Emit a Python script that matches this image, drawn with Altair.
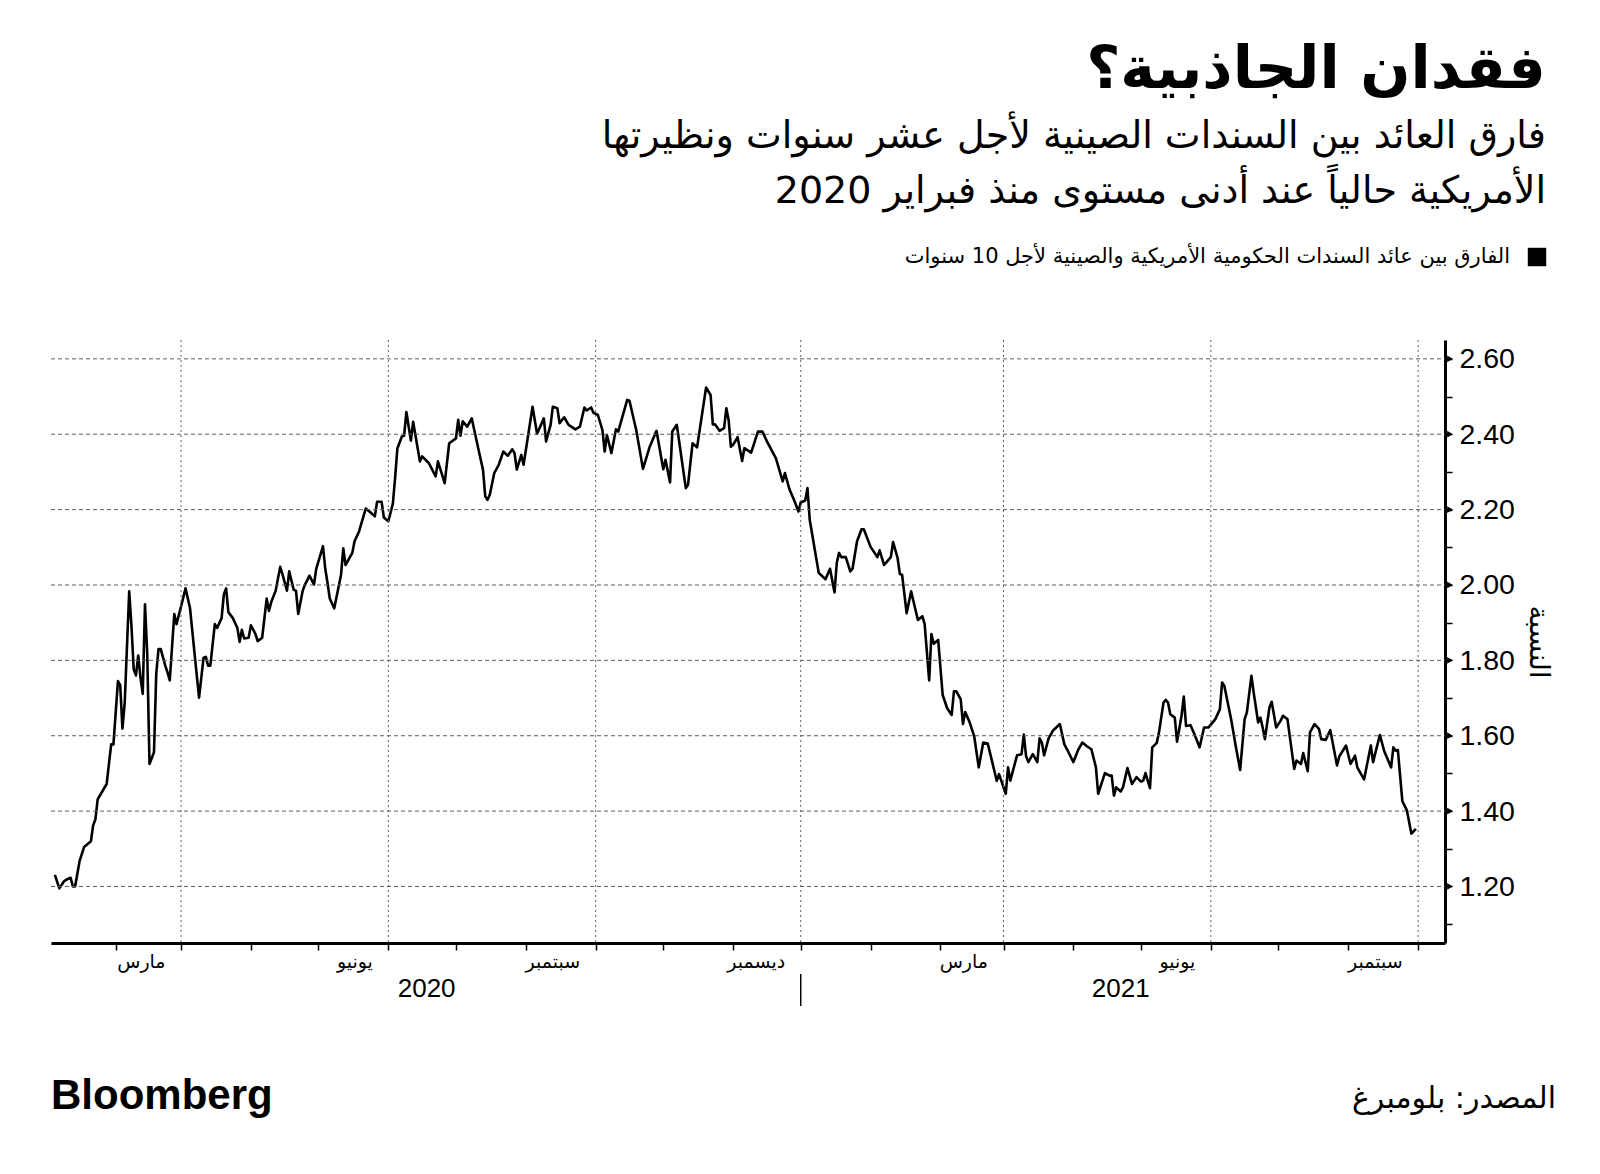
import altair as alt
import pandas as pd

# ---------------- text ----------------
TITLE = "فقدان الجاذبية؟"
SUBTITLE_1 = "فارق العائد بين السندات الصينية لأجل عشر سنوات ونظيرتها"
SUBTITLE_2 = "الأمريكية حالياً عند أدنى مستوى منذ فبراير 2020"
LEGEND = "الفارق بين عائد السندات الحكومية الأمريكية والصينية لأجل 10 سنوات"
SOURCE = "المصدر: بلومبرغ"
BRAND = "Bloomberg"
Y_TITLE = "النسبة"

# ---------------- data ----------------
# dates expressed as days since BASE_DATE, with the spread
BASE_DATE = "2020-03-01"
day_offsets = [
    -56, -54, -52, -51, -49, -48, -47, -45, -43, -40, -39, -38, -37, -34, -33, -32, -31, -30,
    -28, -27, -26, -25, -23, -22, -21, -20, -19, -18, -17, -16, -15, -14, -12, -11, -10, -9,
    -7, -6, -5, -3, -2, 0, 2, 4, 6, 8, 10, 11, 12, 13, 15, 16, 18, 19, 20, 21, 23, 25, 26,
    27, 28, 30, 31, 33, 34, 36, 38, 39, 40, 42, 44, 45, 47, 48, 50, 51, 52, 54, 55, 57, 59,
    60, 63, 64, 65, 66, 68, 71, 72, 73, 76, 77, 79, 80, 82, 84, 86, 87, 89, 90, 92, 94, 95,
    96, 98, 99, 100, 102, 103,
    106, 107, 110, 113, 114, 117, 119, 122, 123, 124, 125, 127, 129, 133, 134, 135, 136, 137,
    139, 141, 143, 145, 147, 148, 149, 151, 152, 156, 158, 161, 162, 164, 165, 167, 168, 170,
    172, 175, 177, 179, 180, 182, 183, 185, 187, 188, 189, 191, 193, 194, 198, 199, 202, 205,
    208, 211, 214, 215, 217, 218, 220, 224, 225, 227, 229, 233, 235, 236, 237, 239, 241, 242,
    243, 244, 245, 247, 249, 250, 253, 256, 258, 260, 264, 267, 268, 270, 272, 274, 275, 277,
    278, 279, 282, 283,
    286, 288, 290, 291, 292, 293, 295, 297, 298, 300, 302, 303, 306, 309, 310, 312, 315, 316,
    318, 319, 320, 322, 324, 327, 329, 330, 332, 333, 334, 336, 338, 340, 342, 343, 344, 346,
    347, 348, 350, 352, 354, 356, 358, 360, 362, 363, 366, 367, 368, 371, 373, 374, 375, 376,
    378, 380, 381, 382, 383, 385, 387, 390, 392, 393, 396, 398, 400, 402, 404, 406, 407,
    410, 412, 413, 414, 415, 417, 418, 420, 422, 424, 426, 427, 428, 430, 431, 433, 434, 436,
    437, 438, 439, 441, 442, 444, 445, 446, 448, 450, 452, 454, 456, 459, 461, 462, 463, 466,
    468, 470, 472, 473, 475, 476, 478, 479, 480, 481, 483, 484, 486, 488, 489, 491, 494, 495,
    497, 498, 500, 501, 503, 505, 506, 508, 510, 513, 514, 517, 519, 521, 522, 525, 528, 529,
    532, 534, 537, 538, 539, 540, 542, 544, 546, 548,
]
spread = [
    1.231, 1.195, 1.213, 1.218, 1.223, 1.200, 1.200, 1.268, 1.305, 1.320, 1.362, 1.378, 1.431,
    1.462, 1.472, 1.525, 1.577, 1.577, 1.745, 1.734, 1.619, 1.687, 1.983, 1.891, 1.776, 1.760,
    1.813, 1.755, 1.711, 1.949, 1.818, 1.525, 1.556, 1.765, 1.830, 1.830, 1.786, 1.768, 1.747,
    1.923, 1.896, 1.943, 1.991, 1.938, 1.818, 1.701, 1.807, 1.809, 1.786, 1.786, 1.896, 1.886,
    1.912, 1.975, 1.991, 1.928, 1.912, 1.886, 1.849, 1.881, 1.858, 1.860, 1.893, 1.870, 1.851,
    1.860, 1.964, 1.931, 1.954, 1.985, 2.048, 2.029, 1.985, 2.036, 1.987, 1.985, 1.923, 1.985,
    2.001, 2.025, 2.001, 2.043, 2.103, 2.043, 2.006, 1.964, 1.938, 2.027, 2.097, 2.053, 2.085,
    2.116, 2.142, 2.163, 2.203, 2.193, 2.182, 2.221, 2.221, 2.179, 2.169, 2.216, 2.284, 2.362,
    2.394, 2.396, 2.459, 2.383, 2.433,
    2.328, 2.341, 2.323, 2.288, 2.328, 2.270, 2.376, 2.389, 2.438, 2.396, 2.434, 2.420, 2.442,
    2.332, 2.306, 2.235, 2.226, 2.239, 2.297, 2.319, 2.354, 2.343, 2.360, 2.350, 2.306, 2.345,
    2.319, 2.473, 2.401, 2.442, 2.381, 2.425, 2.473, 2.469, 2.429, 2.445, 2.425, 2.413, 2.420,
    2.471, 2.463, 2.471, 2.457, 2.451, 2.411, 2.354, 2.398, 2.350, 2.413, 2.407, 2.491, 2.489,
    2.411, 2.308, 2.367, 2.409, 2.307, 2.332, 2.272, 2.407, 2.425, 2.257, 2.266, 2.376, 2.365,
    2.524, 2.504, 2.426, 2.426, 2.409, 2.416, 2.469, 2.438, 2.367, 2.372, 2.392, 2.329, 2.363,
    2.351, 2.407, 2.407, 2.381, 2.336, 2.275, 2.297, 2.254, 2.226, 2.195, 2.219, 2.224, 2.257,
    2.173, 2.067, 2.032,
    2.015, 2.043, 1.980, 2.059, 2.085, 2.074, 2.074, 2.036, 2.043, 2.116, 2.148, 2.148, 2.101,
    2.074, 2.092, 2.053, 2.074, 2.114, 2.071, 2.029, 2.027, 1.925, 1.983, 1.907, 1.917, 1.896,
    1.747, 1.870, 1.844, 1.854, 1.708, 1.673, 1.655, 1.718, 1.718, 1.697, 1.631, 1.663, 1.635,
    1.598, 1.516, 1.582, 1.579, 1.530, 1.480, 1.498, 1.446, 1.516, 1.481, 1.548, 1.551, 1.603,
    1.546, 1.530, 1.551, 1.530, 1.593, 1.582, 1.548, 1.593, 1.614, 1.631, 1.577, 1.566, 1.530,
    1.561, 1.582, 1.572, 1.564, 1.516, 1.446,
    1.501, 1.494, 1.494, 1.441, 1.463, 1.452, 1.463, 1.514, 1.472, 1.490, 1.478, 1.481, 1.501,
    1.461, 1.569, 1.581, 1.609, 1.688, 1.695, 1.688, 1.657, 1.648, 1.584, 1.653, 1.704, 1.626,
    1.628, 1.600, 1.569, 1.622, 1.622, 1.644, 1.670, 1.741, 1.732, 1.644, 1.574, 1.509, 1.644,
    1.662, 1.759, 1.715, 1.635, 1.648, 1.622, 1.591, 1.675, 1.690, 1.622, 1.640, 1.653, 1.644,
    1.512, 1.534, 1.525, 1.554, 1.506, 1.609, 1.631, 1.618, 1.591, 1.589, 1.615, 1.521, 1.545,
    1.574, 1.525, 1.547, 1.516, 1.484, 1.574, 1.530, 1.602, 1.558, 1.516, 1.569, 1.560, 1.562,
    1.426, 1.402, 1.340, 1.353,
]

y_ticks = [1.1, 1.2, 1.3, 1.4, 1.5, 1.6, 1.7, 1.8, 1.9, 2.0, 2.1, 2.2, 2.3, 2.4, 2.5, 2.6]
y_major = [1.2, 1.4, 1.6, 1.8, 2.0, 2.2, 2.4, 2.6]
y_domain = [1.05, 2.65]

month_ticks = [
    "2020-02-01", "2020-03-01", "2020-04-01", "2020-05-01", "2020-06-01", "2020-07-01",
    "2020-08-01", "2020-09-01", "2020-10-01", "2020-11-01", "2020-12-01", "2021-01-01",
    "2021-02-01", "2021-03-01", "2021-04-01", "2021-05-01", "2021-06-01", "2021-07-01",
    "2021-08-01", "2021-09-01",
]
quarter_dates = ["2020-03-01", "2020-06-01", "2020-09-01", "2020-12-01",
                 "2021-03-01", "2021-06-01", "2021-09-01"]
quarter_month_index = [2, 5, 8, 11]  # 0-based months that carry a label
quarter_month_names = ["مارس", "يونيو", "سبتمبر", "ديسمبر"]
year_labels = ["2020", "2021"]
year_label_dates = ["2020-06-18", "2021-04-22"]
year_divider_date = ["2020-12-01"]
x_domain = ["2020-01-03 07:00", "2021-09-12 22:00"]

# ---------------- helpers ----------------
W, H = 1394, 603
AR_FONT = "DejaVu Sans"
NUM_FONT = "Liberation Sans"
GRID_COLOR = "#5e5e5e"


def dt(s):
    t = pd.Timestamp(s)
    return alt.DateTime(year=t.year, month=t.month, date=t.day, hours=t.hour)


xscale = alt.Scale(domain=[dt(x_domain[0]), dt(x_domain[1])])
yscale = alt.Scale(domain=y_domain, zero=False, nice=False)

base_ts = pd.Timestamp(BASE_DATE)
df = pd.DataFrame({
    "date": [base_ts + pd.Timedelta(days=d) for d in day_offsets],
    "spread": spread,
})
df["idx"] = range(len(df))

label_expr = " : ".join(
    f"month(datum.value) == {m} ? '{n}'" for m, n in zip(quarter_month_index, quarter_month_names)
) + " : ''"

x_axis = alt.Axis(
    values=[dt(m) for m in month_ticks],
    labelExpr=label_expr,
    title=None,
    grid=False,
    domainColor="black",
    domainWidth=3,
    tickColor="black",
    tickWidth=1.5,
    tickSize=7,
    labelFont=AR_FONT,
    labelFontSize=19,
    labelColor="black",
    labelAlign="right",
    labelOffset=-16,
    labelPadding=2,
    labelFlush=False,
    labelOverlap=False,
)
y_axis = alt.Axis(
    orient="right",
    values=y_ticks,
    labelExpr="round(datum.value * 10) % 2 == 0 ? format(datum.value, '.2f') : ''",
    title=Y_TITLE,
    titleFont=AR_FONT,
    titleFontSize=28,
    titleFontWeight="normal",
    titleColor="black",
    titleAngle=90,
    titlePadding=9,
    grid=False,
    domainColor="black",
    domainWidth=3,
    tickColor="black",
    tickWidth=1.5,
    tickSize=7,
    labelFont=NUM_FONT,
    labelFontSize=28.5,
    labelColor="black",
    labelPadding=7,
    labelFlush=False,
    labelOverlap=False,
)


def X(field):
    return alt.X(field, scale=xscale, axis=x_axis)


def Y(field):
    return alt.Y(field, scale=yscale, axis=y_axis)


# gridlines
hgrid = alt.Chart(pd.DataFrame({"v": y_major})).mark_rule(
    color=GRID_COLOR, strokeWidth=1, strokeDash=[4, 3]
).encode(
    y=Y("v:Q"),
    x=alt.value(0),
    x2=alt.value(W),
)
vgrid = alt.Chart(pd.DataFrame({"d": pd.to_datetime(quarter_dates)})).mark_rule(
    color=GRID_COLOR, strokeWidth=1, strokeDash=[2, 3]
).encode(
    x=X("d:T"),
    y=alt.value(0),
    y2=alt.value(H),
)

line = alt.Chart(df).mark_line(color="black", strokeWidth=2.6, strokeJoin="round").encode(
    x=X("date:T"),
    y=Y("spread:Q"),
    order=alt.Order("idx:Q"),
)

tri = alt.Chart(pd.DataFrame({"v": y_major})).mark_point(
    shape="triangle-right", filled=True, color="black", size=45, opacity=1
).encode(
    y=Y("v:Q"),
    x=alt.value(W + 5),
)

years = alt.Chart(pd.DataFrame({"d": pd.to_datetime(year_label_dates), "t": year_labels})).mark_text(
    font=NUM_FONT, fontSize=26, color="black", align="center", baseline="middle"
).encode(
    x=X("d:T"),
    y=alt.value(649),
    text="t:N",
)
divider = alt.Chart(pd.DataFrame({"d": pd.to_datetime(year_divider_date)})).mark_rule(
    color="black", strokeWidth=1.5
).encode(
    x=X("d:T"),
    y=alt.value(634),
    y2=alt.value(666),
)


def txt(s, x, y, size, align="right", weight="normal", font=AR_FONT, baseline="middle"):
    return alt.Chart(pd.DataFrame({"t": [s]})).mark_text(
        font=font, fontSize=size, fontWeight=weight, color="black",
        align=align, baseline=baseline
    ).encode(text="t:N", x=alt.value(x), y=alt.value(y))


title = txt(TITLE, 1495, -270, 59, weight="bold")
sub1 = txt(SUBTITLE_1, 1495, -203, 38)
sub2 = txt(SUBTITLE_2, 1495, -148, 38)
legend_text = txt(LEGEND, 1459, -83, 21)
legend_box = alt.Chart(pd.DataFrame({"t": [LEGEND]})).mark_square(
    color="black", size=340, filled=True, opacity=1
).encode(x=alt.value(1486), y=alt.value(-83))
brand = txt(BRAND, 0, 769, 42, align="left", weight="bold", font=NUM_FONT, baseline="alphabetic")
source = txt(SOURCE, 1505, 759, 30)

chart = alt.layer(
    line, hgrid, vgrid, tri, years, divider,
    title, sub1, sub2, legend_box, legend_text, brand, source,
).properties(
    width=W,
    height=H,
    autosize=alt.AutoSizeParams(type="none"),
    padding={"left": 51, "top": 340, "right": 155, "bottom": 231},
    background="white",
).configure_view(stroke=None)

chart.save("out.html", embed_options={"renderer": "svg", "actions": False})
